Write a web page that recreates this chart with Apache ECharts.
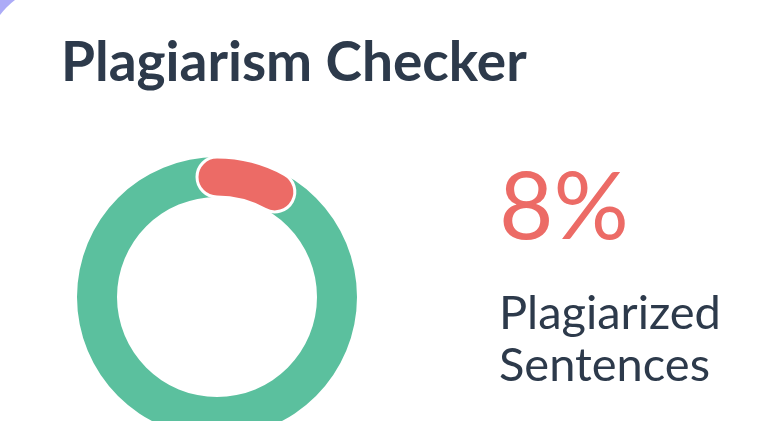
<!DOCTYPE html>
<html>
<head>
<meta charset="utf-8">
<script src="https://cdn.jsdelivr.net/npm/echarts@6/dist/echarts.min.js"></script>
<style>
html,body{margin:0;padding:0;background:#fff;}
#chart{width:768px;height:421px;}
</style>
</head>
<body>
<div id="chart"></div>
<script>
const titleText = 'Plagiarism Checker';
const categories = ['Plagiarized', 'Original'];
const plagiarizedPercent = [8];
const captionLines = ['Plagiarized', 'Sentences'];

const RED = '#EC6B66';
const GREEN = '#5BC09E';
const DARK = '#2D3A4B';

const chart = echarts.init(document.getElementById('chart'), null, {renderer: 'canvas'});
chart.setOption({
  backgroundColor: '#ACABF7',
  animation: false,
  graphic: [
    {type: 'rect', z: -10, shape: {x: -15, y: -15, width: 900, height: 600, r: 75}, style: {fill: '#ffffff'}},
    {type: 'text', left: 61, top: 36, style: {text: titleText, font: 'bold 55px Lato', fill: DARK}},
    {type: 'text', left: 499, top: 162, style: {text: plagiarizedPercent[0] + '%', font: '94px Lato', fill: RED}},
    {type: 'text', left: 499, top: 290, style: {text: captionLines[0], font: '47px Lato', fill: DARK}},
    {type: 'text', left: 499, top: 342, style: {text: captionLines[1], font: '47px Lato', fill: DARK}}
  ],
  series: [{
    type: 'gauge',
    name: categories[0],
    center: [217, 297],
    radius: 140,
    startAngle: 90,
    endAngle: -270,
    min: 0,
    max: 100,
    clockwise: true,
    axisLine: {roundCap: false, lineStyle: {width: 40, color: [[1, GREEN]]}},
    progress: {show: true, roundCap: true, width: 40, itemStyle: {color: RED, borderColor: '#ffffff', borderWidth: 3}},
    pointer: {show: false},
    anchor: {show: false},
    axisTick: {show: false},
    splitLine: {show: false},
    axisLabel: {show: false},
    title: {show: false},
    detail: {show: false},
    data: [{value: plagiarizedPercent[0], name: categories[0]}]
  }]
});
</script>
</body>
</html>
